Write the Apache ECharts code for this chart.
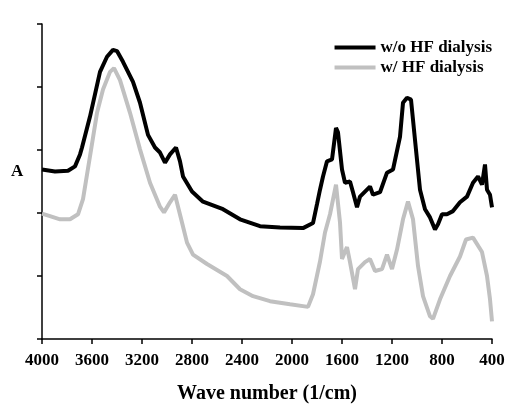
<!DOCTYPE html>
<html>
<head>
<meta charset="utf-8">
<script src="https://cdn.jsdelivr.net/npm/echarts@6/dist/echarts.min.js"></script>
<style>
  html, body { margin: 0; padding: 0; background: #fff; }
  #chart { width: 509px; height: 409px; }
</style>
</head>
<body>
<div id="chart"></div>
<script>
// wave numbers (1/cm) and absorbance
var woWave = [4000, 3896, 3792, 3736, 3696, 3680, 3616, 3536, 3480, 3432, 3400, 3352, 3272, 3216, 3152, 3096, 3056, 3016, 2976, 2928, 2896, 2872, 2800, 2712, 2552, 2416, 2256, 2096, 1912, 1832, 1800, 1776, 1752, 1720, 1680, 1648, 1632, 1600, 1576, 1536, 1512, 1480, 1456, 1416, 1376, 1352, 1296, 1240, 1192, 1136, 1112, 1080, 1048, 1016, 976, 936, 896, 856, 832, 800, 760, 712, 656, 600, 552, 512, 480, 456, 440, 416, 400];
var woAbs = [2.69, 2.66, 2.67, 2.74, 2.93, 3.04, 3.53, 4.24, 4.48, 4.59, 4.57, 4.40, 4.08, 3.75, 3.24, 3.04, 2.96, 2.80, 2.93, 3.04, 2.82, 2.58, 2.34, 2.18, 2.06, 1.90, 1.79, 1.77, 1.76, 1.84, 2.14, 2.37, 2.58, 2.82, 2.85, 3.35, 3.28, 2.69, 2.48, 2.50, 2.33, 2.09, 2.26, 2.34, 2.42, 2.29, 2.33, 2.64, 2.69, 3.21, 3.75, 3.83, 3.80, 3.16, 2.37, 2.06, 1.93, 1.74, 1.82, 1.98, 1.98, 2.03, 2.17, 2.26, 2.48, 2.58, 2.45, 2.77, 2.37, 2.29, 2.09];

var wWave = [4000, 3936, 3856, 3776, 3712, 3672, 3616, 3560, 3512, 3456, 3424, 3376, 3296, 3216, 3136, 3056, 3024, 2976, 2936, 2880, 2840, 2792, 2680, 2520, 2416, 2312, 2176, 2016, 1872, 1832, 1776, 1736, 1696, 1648, 1616, 1600, 1560, 1536, 1496, 1472, 1416, 1376, 1336, 1280, 1240, 1200, 1160, 1112, 1072, 1032, 992, 952, 896, 872, 816, 736, 656, 608, 552, 480, 440, 416, 400];
var wAbs = [1.99, 1.95, 1.90, 1.90, 1.98, 2.22, 2.90, 3.59, 3.96, 4.24, 4.30, 4.11, 3.59, 3.01, 2.48, 2.10, 2.01, 2.17, 2.29, 1.85, 1.53, 1.34, 1.19, 1.00, 0.79, 0.68, 0.60, 0.55, 0.51, 0.71, 1.23, 1.69, 1.98, 2.45, 1.85, 1.27, 1.46, 1.22, 0.79, 1.11, 1.22, 1.27, 1.08, 1.11, 1.34, 1.11, 1.42, 1.90, 2.18, 1.90, 1.16, 0.68, 0.36, 0.32, 0.63, 1.00, 1.31, 1.58, 1.61, 1.38, 1.00, 0.63, 0.28];

var seriesNames = ["w/o HF dialysis", "w/ HF dialysis"];

function pairs(xs, ys) {
  var out = [];
  for (var i = 0; i < xs.length; i++) {
    out.push([xs[i], ys[i]]);
  }
  return out;
}

var font = "'Liberation Serif', 'Times New Roman', serif";
var chart = echarts.init(document.getElementById("chart"));

var option = {
  animation: false,
  textStyle: { fontFamily: font },
  grid: { left: 42, right: 17, top: 24, bottom: 69 },
  legend: {
    orient: "vertical",
    right: 12,
    top: 34,
    itemWidth: 41,
    itemHeight: 4,
    itemGap: 3,
    icon: "rect",
    data: seriesNames,
    textStyle: { fontFamily: font, fontWeight: "bold", fontSize: 17, color: "#000", lineHeight: 17 }
  },
  xAxis: {
    type: "value",
    inverse: true,
    min: 400,
    max: 4000,
    interval: 400,
    name: "Wave number (1/cm)",
    nameLocation: "middle",
    nameGap: 45,
    nameTextStyle: { fontFamily: font, fontWeight: "bold", fontSize: 20, color: "#000" },
    axisLine: { lineStyle: { color: "#000", width: 1.5 } },
    axisTick: { length: 5, lineStyle: { color: "#000", width: 1.5 } },
    axisLabel: {
      fontFamily: font, fontWeight: "bold", fontSize: 17, color: "#000", margin: 13,
      formatter: function (v) { return String(v); }
    },
    splitLine: { show: false }
  },
  yAxis: {
    type: "value",
    min: 0,
    max: 5,
    interval: 1,
    axisLine: { show: true, lineStyle: { color: "#000", width: 1.5 } },
    axisTick: { show: true, length: 5, lineStyle: { color: "#000", width: 1.5 } },
    axisLabel: { show: false },
    splitLine: { show: false }
  },
  graphic: [
    {
      type: "text",
      left: 11,
      top: 163,
      style: { text: "A", font: "bold 17px " + font, fill: "#000" }
    }
  ],
  series: [
    {
      name: seriesNames[1],
      type: "line",
      showSymbol: false,
      data: pairs(wWave, wAbs),
      lineStyle: { color: "#c0c0c0", width: 4 },
      itemStyle: { color: "#c0c0c0" },
      z: 2
    },
    {
      name: seriesNames[0],
      type: "line",
      showSymbol: false,
      data: pairs(woWave, woAbs),
      lineStyle: { color: "#000", width: 4 },
      itemStyle: { color: "#000" },
      z: 3
    }
  ]
};
chart.setOption(option);
</script>
</body>
</html>
